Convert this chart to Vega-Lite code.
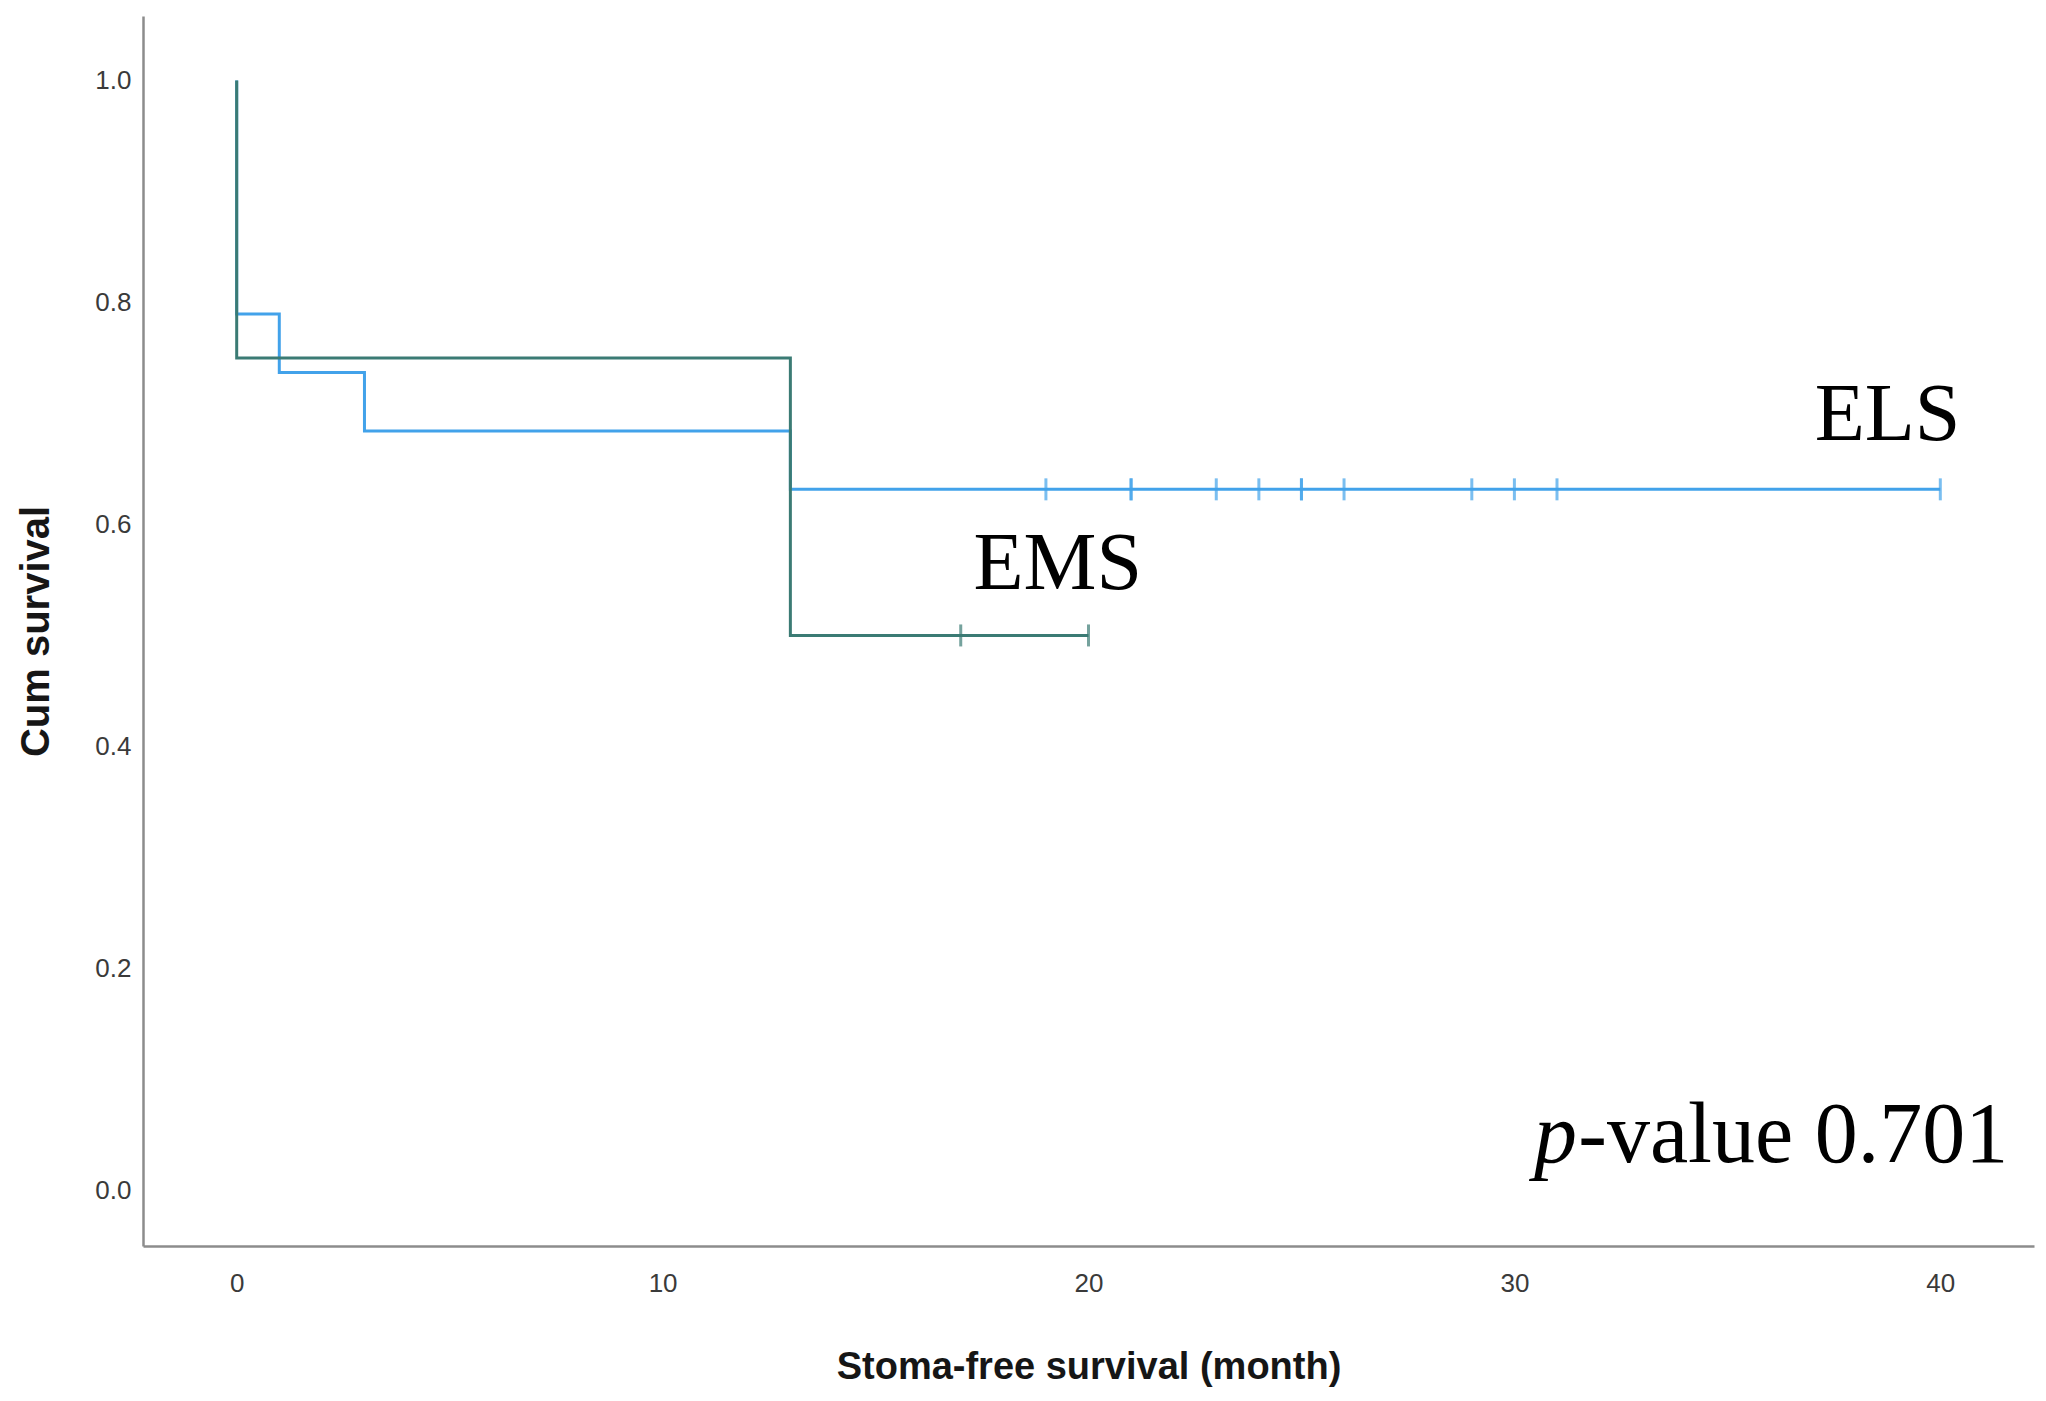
{
  "$schema": "https://vega.github.io/schema/vega-lite/v6.json",
  "width": 1891,
  "height": 1230,
  "autosize": {"type": "none"},
  "padding": {"left": 143, "top": 16, "right": 12, "bottom": 155},
  "background": "white",
  "config": {
    "view": {"stroke": null},
    "axis": {
      "grid": false,
      "ticks": false,
      "domainColor": "#8c8c8c",
      "domainWidth": 2.5,
      "labelFont": "Liberation Sans",
      "labelFontSize": 26,
      "labelColor": "#3a3a3a",
      "titleFont": "Liberation Sans",
      "titleFontSize": 38,
      "titleFontWeight": "bold",
      "titleColor": "#161616"
    }
  },
  "datasets": {
    "curves": [
      {"group": "ELS", "i": 0, "time": 0, "surv": 1.0},
      {"group": "ELS", "i": 1, "time": 0, "surv": 0.7895},
      {"group": "ELS", "i": 2, "time": 1, "surv": 0.7368},
      {"group": "ELS", "i": 3, "time": 3, "surv": 0.6842},
      {"group": "ELS", "i": 4, "time": 13, "surv": 0.6316},
      {"group": "ELS", "i": 5, "time": 40, "surv": 0.6316},
      {"group": "EMS", "i": 0, "time": 0, "surv": 1.0},
      {"group": "EMS", "i": 1, "time": 0, "surv": 0.75},
      {"group": "EMS", "i": 2, "time": 13, "surv": 0.5},
      {"group": "EMS", "i": 3, "time": 20, "surv": 0.5}
    ],
    "censored": [
      {"group": "ELS", "time": 19, "surv": 0.6316},
      {"group": "ELS", "time": 21, "surv": 0.6316},
      {"group": "ELS", "time": 21, "surv": 0.6316},
      {"group": "ELS", "time": 23, "surv": 0.6316},
      {"group": "ELS", "time": 24, "surv": 0.6316},
      {"group": "ELS", "time": 25, "surv": 0.6316},
      {"group": "ELS", "time": 25, "surv": 0.6316},
      {"group": "ELS", "time": 26, "surv": 0.6316},
      {"group": "ELS", "time": 29, "surv": 0.6316},
      {"group": "ELS", "time": 30, "surv": 0.6316},
      {"group": "ELS", "time": 31, "surv": 0.6316},
      {"group": "ELS", "time": 40, "surv": 0.6316},
      {"group": "EMS", "time": 17, "surv": 0.5},
      {"group": "EMS", "time": 20, "surv": 0.5}
    ],
    "groupLabels": [
      {"label": "ELS", "time": 37.05, "surv": 0.676},
      {"label": "EMS", "time": 17.3, "surv": 0.542}
    ],
    "pItalic": [{"label": "p", "time": 30.46, "surv": 0.026}],
    "pRest": [{"label": "-value 0.701", "time": 31.5, "surv": 0.026}]
  },
  "layer": [
    {
      "data": {"name": "curves"},
      "mark": {"type": "line", "interpolate": "step-after", "strokeWidth": 3},
      "encoding": {
        "x": {
          "field": "time", "type": "quantitative",
          "scale": {"domain": [-2.2, 42.2], "nice": false, "zero": false},
          "axis": {"values": [0, 10, 20, 30, 40], "title": "Stoma-free survival (month)", "labelPadding": 24, "titlePadding": 52}
        },
        "y": {
          "field": "surv", "type": "quantitative",
          "scale": {"domain": [-0.05, 1.058], "nice": false, "zero": false},
          "axis": {"values": [0, 0.2, 0.4, 0.6, 0.8, 1.0], "format": ".1f", "title": "Cum survival", "titleFontSize": 40, "labelPadding": 12, "titlePadding": 38}
        },
        "color": {
          "field": "group", "type": "nominal",
          "scale": {"domain": ["ELS", "EMS"], "range": ["#42a2ea", "#3b7b74"]},
          "legend": null
        },
        "order": {"field": "i", "type": "quantitative"}
      }
    },
    {
      "data": {"name": "censored"},
      "mark": {"type": "tick", "orient": "vertical", "size": 22, "thickness": 3},
      "encoding": {
        "x": {"field": "time", "type": "quantitative"},
        "y": {"field": "surv", "type": "quantitative"},
        "color": {
          "field": "group", "type": "nominal",
          "scale": {"domain": ["ELS", "EMS"], "range": ["#3a9be6", "#2a6660"]},
          "legend": null
        }
      }
    },
    {
      "data": {"name": "groupLabels"},
      "mark": {"type": "text", "font": "Liberation Serif", "fontSize": 82, "align": "left", "baseline": "alphabetic", "color": "#000000"},
      "encoding": {
        "x": {"field": "time", "type": "quantitative"},
        "y": {"field": "surv", "type": "quantitative"},
        "text": {"field": "label"}
      }
    },
    {
      "data": {"name": "pItalic"},
      "mark": {"type": "text", "font": "Liberation Serif", "fontSize": 86, "fontStyle": "italic", "align": "left", "baseline": "alphabetic", "color": "#000000"},
      "encoding": {
        "x": {"field": "time", "type": "quantitative"},
        "y": {"field": "surv", "type": "quantitative"},
        "text": {"field": "label"}
      }
    },
    {
      "data": {"name": "pRest"},
      "mark": {"type": "text", "font": "Liberation Serif", "fontSize": 86, "align": "left", "baseline": "alphabetic", "color": "#000000"},
      "encoding": {
        "x": {"field": "time", "type": "quantitative"},
        "y": {"field": "surv", "type": "quantitative"},
        "text": {"field": "label"}
      }
    }
  ]
}
